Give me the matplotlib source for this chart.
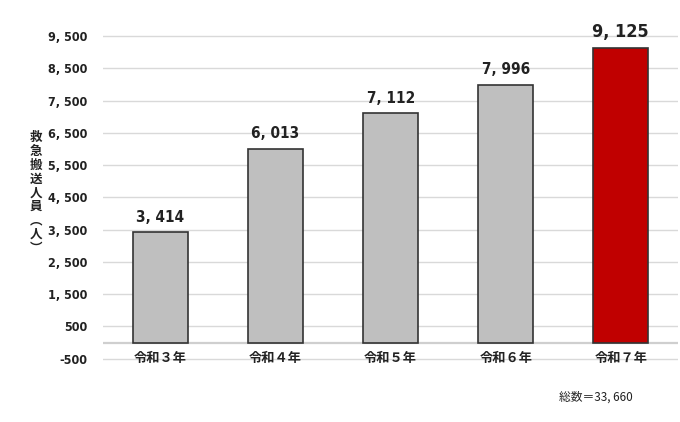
import numpy as np
import matplotlib
matplotlib.use("Agg")
import matplotlib.pyplot as plt
from matplotlib import font_manager

plt.rcParams['font.family'] = ['Noto Sans CJK JP', 'DejaVu Sans']

### data ###
years = ["令和３年", "令和４年", "令和５年", "令和６年", "令和７年"]
persons = [3414, 6013, 7112, 7996, 9125]
value_labels = ["3, 414", "6, 013", "7, 112", "7, 996", "9, 125"]
yticks = [-500, 500, 1500, 2500, 3500, 4500, 5500, 6500, 7500, 8500, 9500]
ytick_labels = ["-500", "500", "1, 500", "2, 500", "3, 500", "4, 500",
                "5, 500", "6, 500", "7, 500", "8, 500", "9, 500"]
total_text = "総数＝33, 660"

# look for a narrow font for the numbers
narrow = None
for f in font_manager.fontManager.ttflist:
    n = f.name.lower()
    if "narrow" in n or "condensed" in n or f.stretch in ("condensed", "semi-condensed", "extra-condensed", 400, 300, 200, 100):
        if f.weight in ("bold", 700) or "bold" in str(f.weight):
            narrow = (f.name, f.stretch)
            break
if narrow is None:
    for f in font_manager.fontManager.ttflist:
        n = f.name.lower()
        if "narrow" in n or "condensed" in n or f.stretch in ("condensed", "semi-condensed", "extra-condensed"):
            narrow = (f.name, f.stretch)
            break

if narrow is not None:
    num_kw = dict(family=[narrow[0], 'DejaVu Sans'], fontstretch=narrow[1])
else:
    num_kw = dict(family=['DejaVu Sans'])

fig = plt.figure(figsize=(6.8, 4.22), dpi=100)
ax = fig.add_axes([0.1515, 0.1346, 0.846, 0.7955])

x = np.arange(len(years))
colors = ["#BFBFBF"] * 4 + ["#C00000"]
ax.bar(x, persons, width=0.48, color=colors, edgecolor="#333333", linewidth=1.2, zorder=3)

ax.set_xlim(-0.5, 4.5)
ax.set_ylim(-700, 9700)

for t in yticks:
    ax.axhline(t, color="#D9D9D9", linewidth=1.0, zorder=1)
ax.axhline(0, color="#CFCFCF", linewidth=1.6, zorder=2)

ax.set_yticks(yticks)
ax.set_yticklabels(ytick_labels, fontweight="bold", fontsize=9, color="#222222", **num_kw)
ax.tick_params(axis="y", length=0, pad=11)
ax.set_xticks([])
for s in ax.spines.values():
    s.set_visible(False)

# category labels sit on the -500 line
for i, name in enumerate(years):
    ax.text(i, -470, name, ha="center", va="center", fontsize=9.5, fontweight="bold", color="#222222", zorder=4)

# value labels
for i, (v, lab) in enumerate(zip(persons, value_labels)):
    big = i == len(persons) - 1
    ax.text(i, v + 220, lab, ha="center", va="bottom", fontweight="bold",
            fontsize=13 if big else 11, color="#222222", zorder=4, **num_kw)

# vertical axis title
ax.text(-1.08, 4640, "救\n急\n搬\n送\n人\n員\n︵\n人\n︶", transform=ax.transData,
        ha="center", va="center", fontsize=9, fontweight="bold", linespacing=1.08,
        color="#222222", clip_on=False)

fig.text(0.822, 0.06, total_text, ha="left", va="center", fontsize=8.5, color="#222222")

fig.savefig("out.png", dpi=100)
